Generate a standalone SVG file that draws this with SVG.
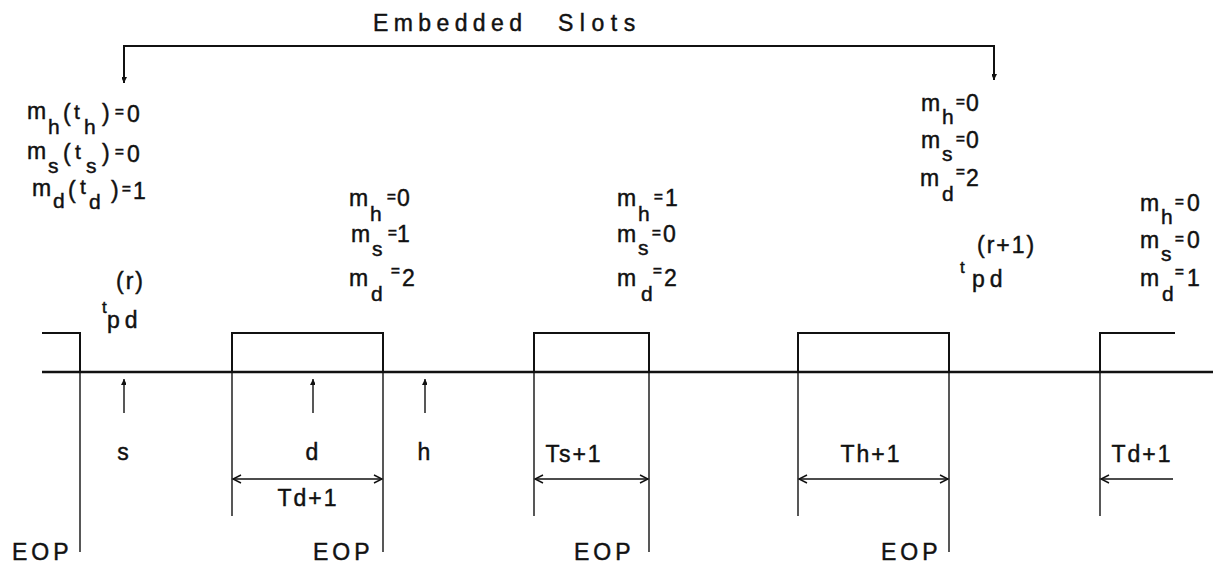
<svg xmlns="http://www.w3.org/2000/svg" width="1217" height="568" viewBox="0 0 1217 568">
<style>
.t{font-family:"Liberation Sans",Arial,sans-serif;font-size:23px;fill:#111;stroke:#111;stroke-width:0.45;letter-spacing:2px}
.s{font-size:21px}
.e{font-size:15px;font-weight:bold}
.sm{font-size:17px}
.ln{stroke:#111;fill:none;stroke-width:2}
.th{stroke:#111;fill:none;stroke-width:1.4}
.base{stroke:#111;fill:none;stroke-width:2.6}
</style>
<defs>
<marker id="fa" viewBox="-6 -10 12 12" markerWidth="12" markerHeight="12" refX="0" refY="0" orient="auto-start-reverse" markerUnits="userSpaceOnUse">
<path d="M-4,-8 L0,0 L4,-8 Z" fill="#111" transform="rotate(-90)"/>
</marker>
<marker id="oa" viewBox="-10 -6 12 12" markerWidth="12" markerHeight="12" refX="0" refY="0" orient="auto-start-reverse" markerUnits="userSpaceOnUse">
<path d="M-8,-4 L0,0 L-8,4" fill="none" stroke="#111" stroke-width="1.4"/>
</marker>
</defs>

<g id="title">
<text class="t"><tspan x="373" y="31" style="letter-spacing:5.4px">Embedded</tspan><tspan x="558" y="31" style="letter-spacing:6.5px">Slots</tspan></text>
</g>

<g id="connectors">
<path class="ln" d="M994,80 V46 H124 V83" marker-start="url(#fa)" marker-end="url(#fa)"/>
<line class="th" x1="124" y1="413" x2="124" y2="379" marker-end="url(#fa)"/>
<line class="th" x1="313" y1="413" x2="313" y2="379" marker-end="url(#fa)"/>
<line class="th" x1="425" y1="413" x2="425" y2="379" marker-end="url(#fa)"/>
<line class="th" x1="233" y1="479" x2="382" y2="479" marker-start="url(#oa)" marker-end="url(#oa)"/>
<line class="th" x1="535" y1="479" x2="648" y2="479" marker-start="url(#oa)" marker-end="url(#oa)"/>
<line class="th" x1="799" y1="479" x2="948" y2="479" marker-start="url(#oa)" marker-end="url(#oa)"/>
<line class="th" x1="1173" y1="479" x2="1101" y2="479" marker-end="url(#oa)"/>
</g>

<g id="signal">
<line class="base" x1="42" y1="372" x2="1213" y2="372"/>
<polyline class="ln" points="42,333 80,333 80,372"/>
<polyline class="ln" points="232,372 232,333 383,333 383,372"/>
<polyline class="ln" points="534,372 534,333 649,333 649,372"/>
<polyline class="ln" points="798,372 798,333 949,333 949,372"/>
<polyline class="ln" points="1100,372 1100,333 1175,333"/>
<line class="th" x1="80" y1="372" x2="80" y2="552"/>
<line class="th" x1="232" y1="372" x2="232" y2="516"/>
<line class="th" x1="383" y1="372" x2="383" y2="552"/>
<line class="th" x1="534" y1="372" x2="534" y2="516"/>
<line class="th" x1="649" y1="372" x2="649" y2="552"/>
<line class="th" x1="798" y1="372" x2="798" y2="516"/>
<line class="th" x1="949" y1="372" x2="949" y2="552"/>
<line class="th" x1="1100" y1="372" x2="1100" y2="516"/>
</g>

<g id="slot-left-state">
<text class="t"><tspan x="27" y="119">m</tspan><tspan class="s" x="48" y="134">h</tspan><tspan x="63" y="121">(</tspan><tspan class="s" x="74" y="119">t</tspan><tspan class="s" x="84" y="134">h</tspan><tspan x="102" y="121">)</tspan><tspan class="e" x="115" y="117">=</tspan><tspan x="127" y="122">0</tspan></text>
<text class="t"><tspan x="27" y="159">m</tspan><tspan class="s" x="48" y="173">s</tspan><tspan x="63" y="161">(</tspan><tspan class="s" x="75" y="159">t</tspan><tspan class="s" x="86" y="173">s</tspan><tspan x="102" y="161">)</tspan><tspan class="e" x="115" y="157">=</tspan><tspan x="127" y="162">0</tspan></text>
<text class="t"><tspan x="32" y="196">m</tspan><tspan class="s" x="53" y="208">d</tspan><tspan x="68" y="198">(</tspan><tspan class="s" x="80" y="194">t</tspan><tspan class="s" x="89" y="209">d</tspan><tspan x="111" y="198">)</tspan><tspan class="e" x="122" y="194">=</tspan><tspan x="133" y="199">1</tspan></text>
</g>

<g id="tpd-r">
<text class="t"><tspan x="116" y="289">(r)</tspan><tspan class="sm" x="102" y="313">t</tspan><tspan x="107" y="328" style="letter-spacing:5px">pd</tspan></text>
</g>

<g id="slot-d-state">
<text class="t"><tspan x="349" y="206">m</tspan><tspan class="s" x="370" y="221">h</tspan><tspan class="e" x="387" y="202">=</tspan><tspan x="397" y="206">0</tspan></text>
<text class="t"><tspan x="351" y="242">m</tspan><tspan class="s" x="372" y="256">s</tspan><tspan class="e" x="388" y="238">=</tspan><tspan x="397" y="242">1</tspan></text>
<text class="t"><tspan x="349" y="286">m</tspan><tspan class="s" x="371" y="301">d</tspan><tspan class="e" x="391" y="276">=</tspan><tspan x="402" y="286">2</tspan></text>
</g>

<g id="slot-s-state">
<text class="t"><tspan x="617" y="206">m</tspan><tspan class="s" x="638" y="221">h</tspan><tspan class="e" x="654" y="202">=</tspan><tspan x="665" y="206">1</tspan></text>
<text class="t"><tspan x="617" y="242">m</tspan><tspan class="s" x="638" y="255">s</tspan><tspan class="e" x="652" y="238">=</tspan><tspan x="663" y="242">0</tspan></text>
<text class="t"><tspan x="617" y="286">m</tspan><tspan class="s" x="641" y="301">d</tspan><tspan class="e" x="653" y="276">=</tspan><tspan x="664" y="286">2</tspan></text>
</g>

<g id="slot-h-state">
<text class="t"><tspan x="921" y="111">m</tspan><tspan class="s" x="942" y="124">h</tspan><tspan class="e" x="956" y="107">=</tspan><tspan x="966" y="111">0</tspan></text>
<text class="t"><tspan x="921" y="148">m</tspan><tspan class="s" x="942" y="161">s</tspan><tspan class="e" x="956" y="144">=</tspan><tspan x="966" y="148">0</tspan></text>
<text class="t"><tspan x="920" y="186">m</tspan><tspan class="s" x="942" y="201">d</tspan><tspan class="e" x="956" y="177">=</tspan><tspan x="966" y="186">2</tspan></text>
</g>

<g id="tpd-r1">
<text class="t"><tspan x="977" y="253">(r+1)</tspan><tspan class="sm" x="960" y="273">t</tspan><tspan x="972" y="287" style="letter-spacing:5px">pd</tspan></text>
</g>

<g id="slot-right-state">
<text class="t"><tspan x="1140" y="211">m</tspan><tspan class="s" x="1161" y="224">h</tspan><tspan class="e" x="1175" y="207">=</tspan><tspan x="1187" y="211">0</tspan></text>
<text class="t"><tspan x="1140" y="248">m</tspan><tspan class="s" x="1161" y="261">s</tspan><tspan class="e" x="1175" y="244">=</tspan><tspan x="1187" y="248">0</tspan></text>
<text class="t"><tspan x="1140" y="286">m</tspan><tspan class="s" x="1162" y="301">d</tspan><tspan class="e" x="1175" y="277">=</tspan><tspan x="1187" y="286">1</tspan></text>
</g>

<g id="slot-labels">
<text class="t" x="124" y="460" text-anchor="middle">s</text>
<text class="t" x="313" y="460" text-anchor="middle">d</text>
<text class="t" x="425" y="460" text-anchor="middle">h</text>
</g>

<g id="durations">
<text class="t" x="308" y="506" text-anchor="middle">Td+1</text>
<text class="t" x="574" y="462" text-anchor="middle">Ts+1</text>
<text class="t" x="871" y="462" text-anchor="middle">Th+1</text>
<text class="t" x="1142" y="462" text-anchor="middle">Td+1</text>
</g>

<g id="eop-labels">
<text class="t" x="12" y="560" style="letter-spacing:4px">EOP</text>
<text class="t" x="313" y="560" style="letter-spacing:4px">EOP</text>
<text class="t" x="574" y="560" style="letter-spacing:4px">EOP</text>
<text class="t" x="881" y="560" style="letter-spacing:4px">EOP</text>
</g>
</svg>
